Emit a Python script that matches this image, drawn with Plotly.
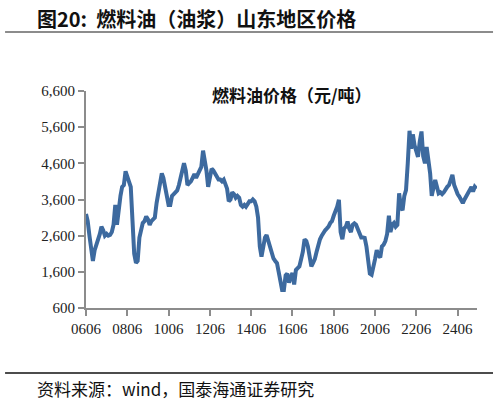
import pandas as pd
import plotly.graph_objects as go

# monthly price, 2006-06 .. 2025-05 (yuan/ton)
start_month = "2006-06-01"
prices = [
    3200, 3000, 2600, 2100, 1900, 2200, 2400,                              # 2006
    2500, 2650, 2850, 2750, 2600, 2650, 2600, 2620, 2700, 2900, 3450, 2900,  # 2007
    3400, 3700, 3950, 4000, 4380, 4200, 4050, 3950, 3000, 2100, 1850, 1900,  # 2008
    2550, 2750, 2950, 3000, 3130, 3050, 2900, 3000, 3050, 3100, 3500, 3800,  # 2009
    4100, 4320, 4200, 3950, 3600, 3450, 3450, 3700, 3750, 3800, 3850, 4000,  # 2010
    4200, 4400, 4600, 4400, 4000, 4050, 4100, 4200, 4300, 4200, 4300, 4400,  # 2011
    4500, 4950, 4700, 4400, 3950, 4300, 4450, 4400, 4300, 4250, 4150, 4150,  # 2012
    4100, 4150, 4000, 3900, 3550, 3600, 3800, 3750, 3650, 3700, 3650, 3450,  # 2013
    3400, 3450, 3400, 3500, 3550, 3550, 3600, 3550, 3400, 3100, 2300, 2020,  # 2014
    2300, 2550, 2620, 2450, 2250, 2150, 1970, 1900, 1840, 1600, 1350, 1100,  # 2015
    1100, 1500, 1550, 1300, 1450, 1570, 1250, 1650, 1700, 1750, 1950, 2150,  # 2016
    2500, 2450, 2300, 2000, 1750, 1850, 1950, 2150, 2400, 2500, 2600, 2700,  # 2017
    2750, 2800, 2850, 2950, 3000, 3150, 3250, 3400, 3590, 2700, 2500, 2800,  # 2018
    2850, 2990, 2800, 2700, 2900, 2940, 2900, 2760, 2650, 2550, 2550, 2540,  # 2019
    2300, 1800, 1550, 1520, 1700, 1950, 2200, 2050, 2000, 2300, 2350, 2450,  # 2020
    2650, 3150, 2700, 2900, 2950, 2850, 2900, 3770, 3400, 3300, 3700, 3860,  # 2021
    4600, 5500, 5000, 5400, 5100, 4950, 4780, 5200, 5480, 4800, 4600, 5050,  # 2022
    4700, 4320, 3700, 3900, 4140, 3950, 3770, 3800, 3750, 3800, 3900, 3950,  # 2023
    4000, 4150, 4280, 4000, 3860, 3750, 3680, 3600, 3500, 3600, 3680, 3750,  # 2024
    3860, 3950, 3820, 3950, 3900,                                          # 2025
]
dates = pd.date_range(start_month, periods=len(prices), freq="MS")

tick_dates = ["2006-06-01", "2008-06-01", "2010-06-01", "2012-06-01", "2014-06-01",
              "2016-06-01", "2018-06-01", "2020-06-01", "2022-06-01", "2024-06-01"]
tick_labels = ["0606", "0806", "1006", "1206", "1406", "1606", "1806", "2006", "2206", "2406"]
y_ticks = [600, 1600, 2600, 3600, 4600, 5600, 6600]

fig = go.Figure()
fig.add_trace(go.Scatter(
    x=dates, y=prices, mode="lines",
    line=dict(color="#3D6A9F", width=4),
    showlegend=False,
))

axis_font = dict(family="Liberation Serif", size=15, color="#222222")

fig.update_layout(
    width=498, height=404,
    margin=dict(l=86, r=21, t=91, b=96),
    paper_bgcolor="white", plot_bgcolor="white",
    xaxis=dict(
        range=["2006-06-01", "2025-05-10"],
        tickvals=tick_dates, ticktext=tick_labels,
        showline=True, linecolor="#8C8C8C", linewidth=2,
        ticks="outside", ticklen=6, tickcolor="#8C8C8C", tickwidth=2,
        showgrid=False, zeroline=False, tickfont=axis_font,
    ),
    yaxis=dict(
        range=[600, 6600], tickvals=y_ticks, tickformat=",",
        showline=True, linecolor="#8C8C8C", linewidth=2,
        ticks="outside", ticklen=6, tickcolor="#8C8C8C", tickwidth=2,
        showgrid=False, zeroline=False, tickfont=axis_font,
    ),
)

# figure title, chart subtitle, source note
fig.add_annotation(
    xref="paper", yref="paper", x=-0.13, y=1.336,
    text="<b>图20:  燃料油（油浆）山东地区价格</b>", showarrow=False,
    xanchor="left", yanchor="middle",
    font=dict(family="Noto Sans CJK SC", size=20, color="#111111"),
)
fig.add_annotation(
    xref="paper", yref="paper", x=0.526, y=0.982,
    text="<b>燃料油价格（元/吨）</b>", showarrow=False,
    xanchor="center", yanchor="middle",
    font=dict(family="Noto Sans CJK SC", size=17, color="#111111"),
)
fig.add_annotation(
    xref="paper", yref="paper", x=-0.13, y=-0.369,
    text="资料来源：wind，国泰海通证券研究", showarrow=False,
    xanchor="left", yanchor="middle",
    font=dict(family="Noto Sans CJK SC", size=17, color="#111111"),
)
# rules under the title and above the source
fig.add_shape(type="line", xref="paper", yref="paper", x0=-0.207, x1=1.041, y0=1.272, y1=1.272,
              line=dict(color="#8C8C8C", width=2))
fig.add_shape(type="line", xref="paper", yref="paper", x0=-0.207, x1=1.041, y0=-0.2995, y1=-0.2995,
              line=dict(color="#111111", width=1.5))

fig.write_html("out.html", config={"displayModeBar": False},
               post_script="document.body.style.margin='0';")
